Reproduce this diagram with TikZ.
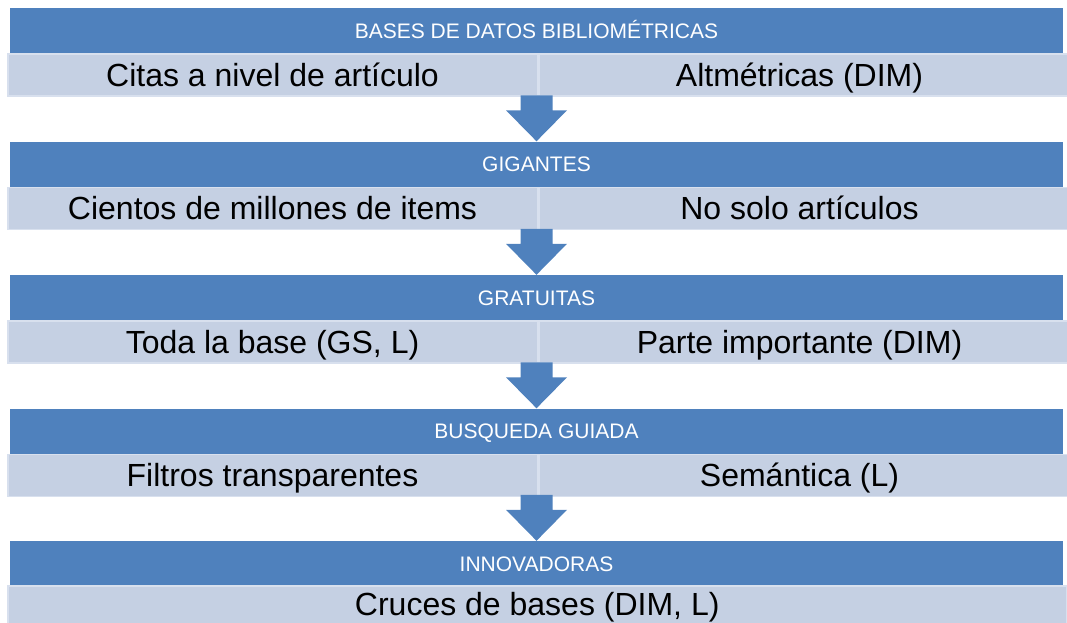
\documentclass[tikz,border=0pt]{standalone}
\usepackage{fontspec}
\setmainfont{Liberation Sans}
\usetikzlibrary{positioning}

\definecolor{hdrblue}{RGB}{79,129,189}
\definecolor{cellblue}{RGB}{197,208,227}
\definecolor{cellline}{RGB}{216,224,238}

\begin{document}
\begin{tikzpicture}[x=1pt,y=-1pt,
	hdr/.style={fill=hdrblue,text=white,minimum width=1053pt,minimum height=45pt,inner sep=0pt,
		text height=15pt,text depth=0pt,font=\fontsize{21}{25}\selectfont},
	cell/.style={fill=cellblue,draw=cellline,line width=1.5pt,minimum height=42pt,inner sep=0pt,
		text height=23pt,text depth=0pt,font=\fontsize{32}{38}\selectfont},
	halfcell/.style={cell,minimum width=529.5pt},
	fullcell/.style={cell,minimum width=1059pt},
	down/.style={fill=hdrblue}]

	\useasboundingbox (0,0) rectangle (1067,622);
	\clip (0,0) rectangle (1067,622);

	% rows with two cells
	\foreach \i/\t/\a/\b in {1/{BASES DE DATOS BIBLIOMÉTRICAS}/{Citas a nivel de artículo}/{Altmétricas (DIM)},
		2/{GIGANTES}/{Cientos de millones de items}/{No solo artículos},
		3/{GRATUITAS}/{Toda la base (GS, L)}/{Parte importante (DIM)},
		4/{BUSQUEDA GUIADA}/{Filtros transparentes}/{Semántica (L)}}
	{
		\node[hdr] (h\i) at (536.5,{30.5+133.5*(\i-1)}) {\t};
		\node[halfcell,anchor=north west] (l\i a) at (7,{53+133.5*(\i-1)}) {\a};
		\node[halfcell,anchor=west] (l\i b) [right=0pt of l\i a] {\hspace*{-8pt}\b};
	}

	% last row
	\node[hdr] (h5) at (536.5,563.5) {INNOVADORAS};
	\node[fullcell,anchor=north west,text height=18pt] (l5) at (7,585) {Cruces de bases (DIM, L)};

	% block arrows
	\foreach \i [evaluate=\i as \j using int(\i+1)] in {1,...,4}
		\fill[down] (h\j.north) -- +(-30.5,-31) -- +(-16,-31) -- +(-16,-46)
			-- +(16,-46) -- +(16,-31) -- +(30.5,-31) -- cycle;
\end{tikzpicture}
\end{document}
